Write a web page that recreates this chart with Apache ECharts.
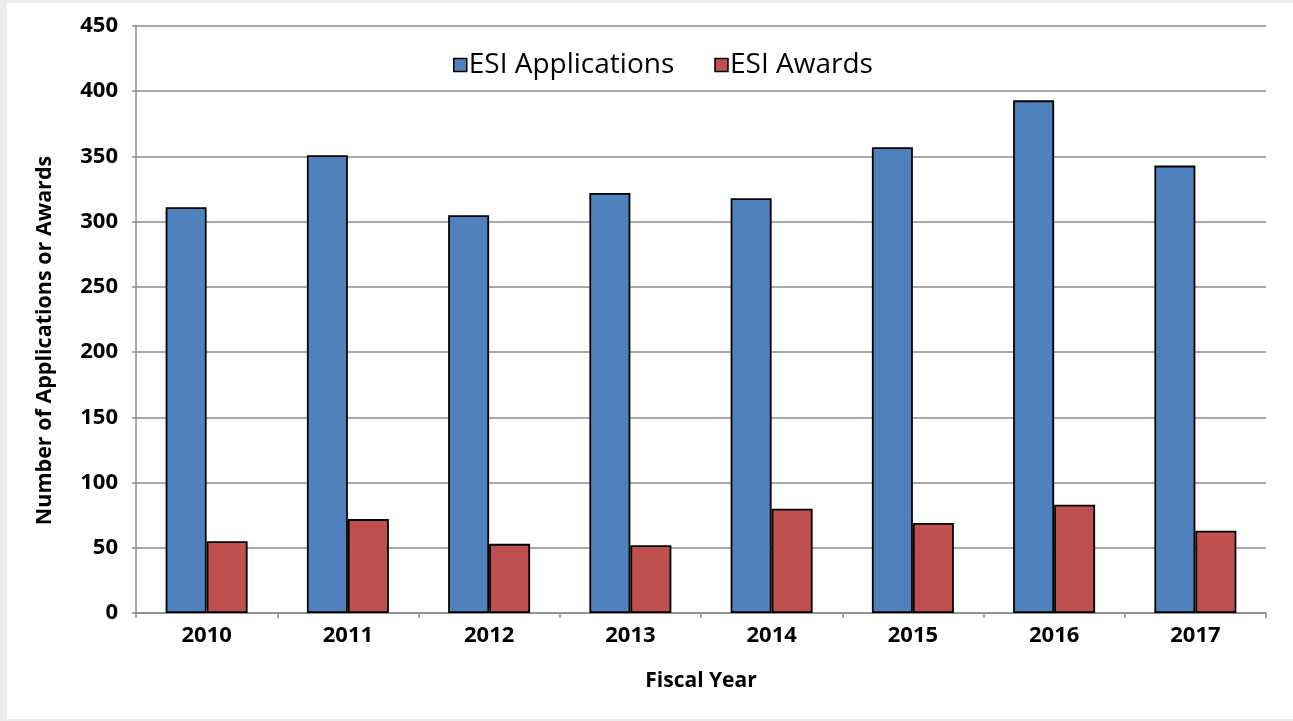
<!DOCTYPE html>
<html>
<head>
<meta charset="utf-8">
<script src="https://cdn.jsdelivr.net/npm/echarts@6/dist/echarts.min.js"></script>
<style>
  html, body { margin: 0; padding: 0; background: #ececec; }
  #panel { position: absolute; left: 7px; top: 3px; width: 1286px; height: 716px; background: #fff; }
  #chart { position: absolute; left: 0; top: 0; width: 1293px; height: 721px; }
</style>
</head>
<body>
<div id="panel"></div>
<div id="chart"></div>
<script>
// fiscal years and counts
const years = ['2010', '2011', '2012', '2013', '2014', '2015', '2016', '2017'];
const applications = [311, 351, 305, 322, 318, 357, 393, 343];
const awards = [55, 72, 53, 52, 80, 69, 83, 63];
const yTicks = [0, 50, 100, 150, 200, 250, 300, 350, 400, 450];

const FONT = '"Open Sans", "Liberation Sans", sans-serif';
const gridGray = '#8c8c8c';

const chart = echarts.init(document.getElementById('chart'), null, { renderer: 'canvas' });

const barBase = {
  type: 'bar',
  barWidth: 41,
  barGap: '0%',
  itemStyle: { borderColor: '#000', borderWidth: 1.8 },
  emphasis: { disabled: true }
};

chart.setOption({
  animation: false,
  textStyle: { fontFamily: FONT },
  grid: { left: 136, right: 27, top: 26, bottom: 108 },
  legend: {
    left: 448,
    top: 46,
    itemWidth: 13,
    itemHeight: 13,
    itemGap: 40,
    icon: 'rect',
    textStyle: { fontFamily: FONT, fontSize: 28, color: '#000', padding: [0, 0, 0, -3] },
    data: [
      { name: 'ESI Applications', itemStyle: { borderColor: '#000', borderWidth: 1.5 } },
      { name: 'ESI Awards', itemStyle: { borderColor: '#000', borderWidth: 1.5 } }
    ]
  },
  xAxis: {
    type: 'category',
    data: years,
    name: 'Fiscal Year',
    nameLocation: 'middle',
    nameGap: 58,
    nameTextStyle: { fontFamily: FONT, fontSize: 21, fontWeight: 'bold', color: '#000' },
    axisLine: { lineStyle: { color: gridGray, width: 1.5 } },
    axisTick: { show: true, length: 5, lineStyle: { color: gridGray, width: 1.5 } },
    axisLabel: { fontFamily: FONT, fontSize: 22, fontWeight: 'bold', color: '#000', margin: 12 }
  },
  yAxis: {
    type: 'value',
    min: yTicks[0],
    max: yTicks[yTicks.length - 1],
    interval: yTicks[1] - yTicks[0],
    name: 'Number of Applications or Awards',
    nameLocation: 'middle',
    nameGap: 80,
    nameTextStyle: { fontFamily: FONT, fontSize: 21.5, fontWeight: 'bold', color: '#000', padding: [0, 42, 0, 0] },
    axisLine: { show: true, lineStyle: { color: gridGray, width: 1.5 } },
    axisTick: { show: true, length: 4, lineStyle: { color: gridGray, width: 1.5 } },
    axisLabel: { fontFamily: FONT, fontSize: 22, fontWeight: 'bold', color: '#000', margin: 18 },
    splitLine: { lineStyle: { color: gridGray, width: 1.5 } }
  },
  series: [
    Object.assign({}, barBase, { name: 'ESI Applications', data: applications, itemStyle: Object.assign({}, barBase.itemStyle, { color: '#4f81bd' }) }),
    Object.assign({}, barBase, { name: 'ESI Awards', data: awards, itemStyle: Object.assign({}, barBase.itemStyle, { color: '#c0504d' }) })
  ]
});
</script>
</body>
</html>
